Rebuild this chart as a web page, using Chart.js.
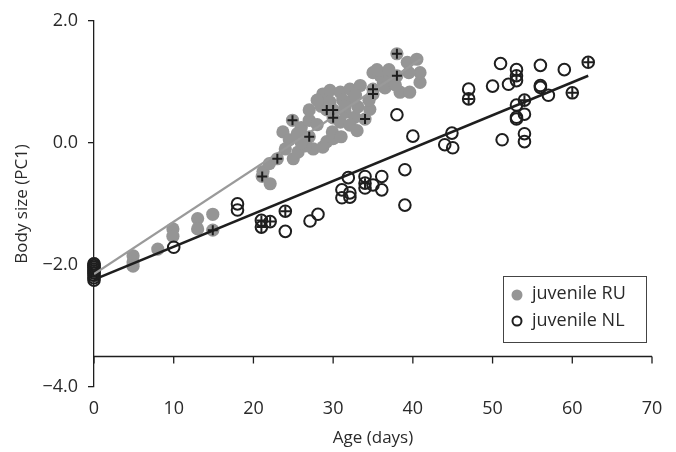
<!DOCTYPE html>
<html>
<head>
<meta charset="utf-8">
<script src="https://cdn.jsdelivr.net/npm/chart.js@4.4.1/dist/chart.umd.min.js"></script>
<style>
  html, body { margin: 0; padding: 0; background: #fff; }
  #wrap { width: 676px; height: 452px; }
</style>
</head>
<body>
<div id="wrap"><canvas id="chart" width="676" height="452"></canvas></div>
<script>
// juvenile RU (grey filled), 1 = marked with a cross
const ruAge = [0, 0, 0, 0, 0, 4.9, 4.9, 4.9, 8, 9.9, 9.9, 13, 13, 14.9, 14.9,
  21.1, 22.1, 21.2, 22, 23, 25, 25.6, 27.5, 28.7, 24, 26.5,
  23.7, 24.9, 24.5, 27, 26, 27, 27, 28, 28.5, 29.2, 30, 30, 29.2, 30, 29.9,
  28.7, 29.6, 30.9, 32.1, 33.4, 29.6, 31.5, 32.7, 30.9, 33.1, 32.1, 32.5, 31.2,
  34, 34.6, 35, 35, 35, 35.9, 36.3, 37.1, 35.5,
  38.4, 39.6, 40.9, 40.9, 39.3, 40.5, 38, 38,
  26, 25.5, 28, 31.5, 33, 36.5, 37, 39.5, 34.5, 31, 37.8, 32.8];
const ruSize = [-1.98, -2.03, -2.08, -2.13, -2.18, -1.85, -1.95, -2.02, -1.74, -1.41, -1.53, -1.24, -1.41, -1.17, -1.43,
  -0.55, -0.67, -0.47, -0.34, -0.26, -0.26, -0.15, -0.1, -0.07, -0.1, -0.05,
  0.18, 0.37, 0.05, 0.1, 0.25, 0.37, 0.54, 0.3, 0.6, 0.54, 0.54, 0.41, 0.02, 0.07, 0.18,
  0.8, 0.86, 0.83, 0.88, 0.94, 0.67, 0.5, 0.42, 0.34, 0.59, 0.29, 0.72, 0.7,
  0.39, 0.55, 0.88, 0.8, 1.15, 1.1, 0.99, 1.07, 1.2,
  0.83, 0.83, 0.99, 1.15, 1.32, 1.37, 1.46, 1.1,
  0.0, 0.15, 0.7, 0.6, 0.2, 0.9, 1.2, 1.15, 0.7, 0.1, 0.95, 0.78];
const ruMarked = [0, 0, 0, 0, 0, 0, 0, 0, 0, 0, 0, 0, 0, 0, 1,
  1, 0, 0, 0, 1, 0, 0, 0, 0, 0, 0,
  0, 1, 0, 1, 0, 0, 0, 0, 0, 1, 1, 1, 0, 0, 0,
  0, 0, 0, 0, 0, 0, 0, 0, 0, 0, 0, 0, 0,
  1, 0, 1, 1, 0, 0, 0, 0, 0,
  0, 0, 0, 0, 0, 0, 1, 1,
  0, 0, 0, 0, 0, 0, 0, 0, 0, 0, 0, 0];

// juvenile NL (open circles)
const nlAge = [0, 0, 0, 0, 0, 0, 0, 0, 0, 10, 18, 18, 21, 21, 22.1, 24, 24, 27.1, 28.1,
  31.1, 31.1, 32.1, 32.1, 31.9, 34, 34, 34, 35, 36.1, 36.1,
  38, 40, 39, 39, 44.9, 44, 45, 47, 47,
  51, 50, 52, 53, 53, 53, 51.2, 53, 53, 53, 54, 54, 54, 54,
  56, 59, 62, 56, 56, 57, 60];
const nlSize = [-1.98, -2.01, -2.04, -2.07, -2.1, -2.13, -2.17, -2.21, -2.25, -1.71, -1.0, -1.1, -1.27, -1.38, -1.29, -1.12, -1.45, -1.28, -1.17,
  -0.77, -0.9, -0.82, -0.89, -0.57, -0.55, -0.66, -0.74, -0.69, -0.55, -0.77,
  0.46, 0.11, -0.44, -1.02, 0.16, -0.03, -0.08, 0.88, 0.72,
  1.3, 0.93, 0.96, 1.2, 1.1, 1.02, 0.05, 0.62, 0.42, 0.39, 0.47, 0.7, 0.15, 0.02,
  1.27, 1.2, 1.32, 0.94, 0.91, 0.78, 0.82];
const nlMarked = [0, 0, 0, 0, 0, 0, 0, 0, 0, 0, 0, 0, 1, 1, 1, 1, 0, 0, 0,
  0, 0, 0, 0, 0, 0, 1, 0, 0, 0, 0,
  0, 0, 0, 0, 0, 0, 0, 0, 1,
  0, 0, 0, 0, 1, 0, 0, 0, 0, 0, 0, 1, 0, 0,
  0, 0, 1, 0, 0, 0, 1];

// regression lines (end points)
const ruFitAge = [0, 41];
const ruFitSize = [-2.15, 1.37];
const nlFitAge = [0, 62];
const nlFitSize = [-2.24, 1.1];

// axes
const xTicks = [0, 10, 20, 30, 40, 50, 60, 70];
const yTicks = [-4, -2, 0, 2];
const xAxisAt = -3.5;

const GREY = '#959595';
const INK = '#1e1e1e';
const TEXT = '#2a2a2a';
const FONT = "'Open Sans', sans-serif";

const toPoints = (xs, ys) => xs.map((x, i) => ({ x: x, y: ys[i] }));
const marked = (xs, ys, flags) => toPoints(xs, ys).filter((p, i) => flags[i]);

// x axis line is drawn at y = -3.5 with ticks hanging down
const crossAxis = {
  id: 'crossAxis',
  afterDraw(chart) {
    const { ctx, scales: { x, y } } = chart;
    const yy = y.getPixelForValue(xAxisAt);
    ctx.save();
    ctx.strokeStyle = INK;
    ctx.lineWidth = 1.3;
    ctx.beginPath();
    ctx.moveTo(x.getPixelForValue(x.min), yy);
    ctx.lineTo(x.getPixelForValue(x.max), yy);
    xTicks.forEach(t => {
      const px = x.getPixelForValue(t);
      ctx.moveTo(px, yy);
      ctx.lineTo(px, yy + 7);
    });
    ctx.stroke();
    ctx.restore();
  }
};

// boxed legend in the lower right
const boxLegend = {
  id: 'boxLegend',
  afterDraw(chart) {
    const ctx = chart.ctx;
    ctx.save();
    ctx.strokeStyle = '#444';
    ctx.lineWidth = 1;
    ctx.strokeRect(503.5, 276.5, 143, 66);
    ctx.font = '18px ' + FONT;
    ctx.fillStyle = TEXT;
    ctx.textBaseline = 'middle';
    ctx.fillText('juvenile RU', 532, 294);
    ctx.fillText('juvenile NL', 532, 321);
    ctx.beginPath();
    ctx.fillStyle = GREY;
    ctx.arc(517, 295, 5.5, 0, Math.PI * 2);
    ctx.fill();
    ctx.beginPath();
    ctx.strokeStyle = INK;
    ctx.lineWidth = 2;
    ctx.arc(517, 321, 4.5, 0, Math.PI * 2);
    ctx.stroke();
    ctx.restore();
  }
};

new Chart(document.getElementById('chart'), {
  type: 'scatter',
  data: {
    datasets: [
      {
        label: 'marks',
        data: marked(ruAge, ruSize, ruMarked).concat(marked(nlAge, nlSize, nlMarked)),
        pointStyle: 'cross',
        pointRadius: 5,
        borderColor: INK,
        borderWidth: 2,
        order: 0,
        clip: false
      },
      {
        label: 'fit RU',
        data: toPoints(ruFitAge, ruFitSize),
        showLine: true,
        borderColor: '#9a9a9a',
        borderWidth: 2.2,
        pointRadius: 0,
        order: 1
      },
      {
        label: 'fit NL',
        data: toPoints(nlFitAge, nlFitSize),
        showLine: true,
        borderColor: INK,
        borderWidth: 2.5,
        pointRadius: 0,
        order: 1
      },
      {
        label: 'juvenile NL',
        data: toPoints(nlAge, nlSize),
        pointRadius: 5.8,
        pointStyle: 'circle',
        backgroundColor: 'rgba(0,0,0,0)',
        borderColor: INK,
        borderWidth: 2,
        order: 2,
        clip: false
      },
      {
        label: 'juvenile RU',
        data: toPoints(ruAge, ruSize),
        pointRadius: 6.6,
        pointStyle: 'circle',
        backgroundColor: GREY,
        borderWidth: 0,
        order: 3,
        clip: false
      }
    ]
  },
  options: {
    responsive: false,
    animation: false,
    layout: { padding: { top: 18, right: 24, left: 0, bottom: 0 } },
    plugins: {
      legend: { display: false },
      tooltip: { enabled: false }
    },
    scales: {
      x: {
        type: 'linear',
        min: 0,
        max: 70,
        afterBuildTicks: s => { s.ticks = xTicks.map(v => ({ value: v })); },
        grid: { display: false },
        border: { display: false },
        ticks: { color: TEXT, font: { family: FONT, size: 18 }, padding: 3 },
        title: { display: true, text: 'Age (days)', color: TEXT, font: { family: FONT, size: 17 }, padding: { top: 2, bottom: 4 } },
        afterFit: s => { s.height = 65; }
      },
      y: {
        type: 'linear',
        min: -4,
        max: 2,
        afterBuildTicks: s => { s.ticks = yTicks.map(v => ({ value: v })); },
        grid: { drawOnChartArea: false, tickLength: 6, color: INK, lineWidth: 1.3 },
        border: { display: true, color: INK, width: 1.3 },
        ticks: {
          color: TEXT,
          font: { family: FONT, size: 18 },
          padding: 10,
          callback: v => v.toFixed(1).replace('-', '\u2212')
        },
        title: { display: true, text: 'Body size (PC1)', color: TEXT, font: { family: FONT, size: 17 }, padding: { top: 12, bottom: 0 } },
        afterFit: s => { s.width = 94; }
      }
    }
  },
  plugins: [crossAxis, boxLegend]
});
</script>
</body>
</html>
